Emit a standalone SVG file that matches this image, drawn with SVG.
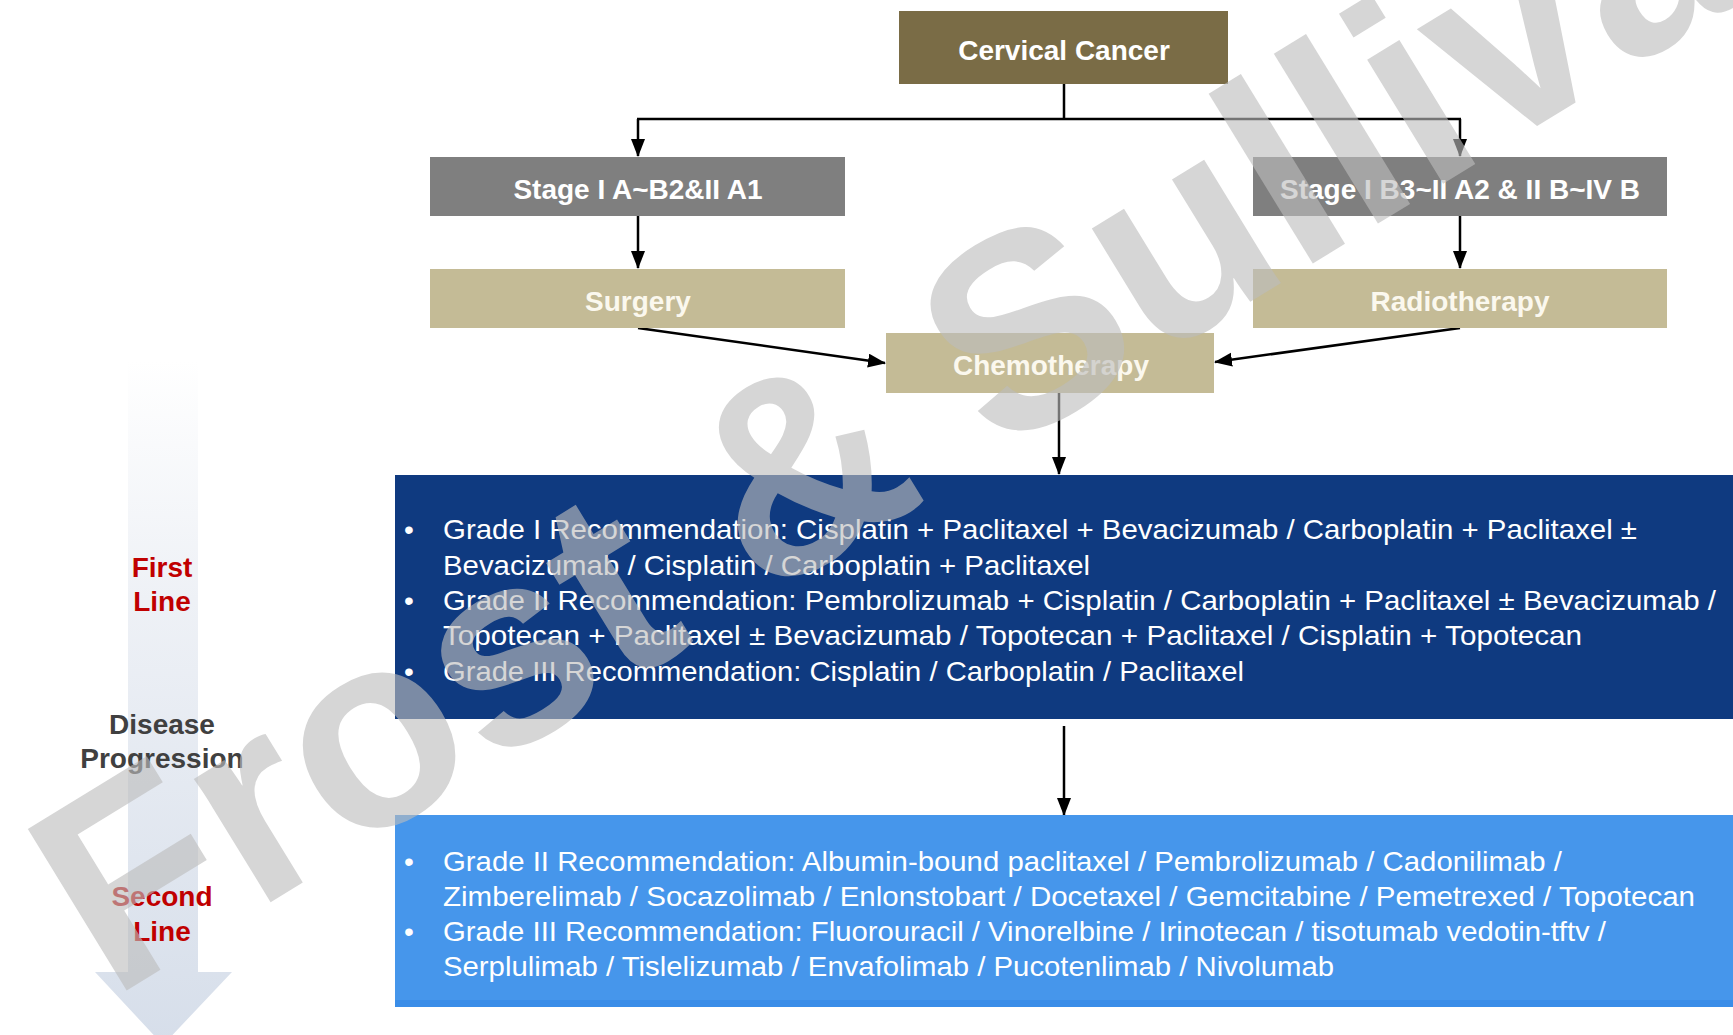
<svg xmlns="http://www.w3.org/2000/svg" width="1733" height="1035" viewBox="0 0 1733 1035">
<defs>
<style>
.node-title{font-family:"Liberation Sans",Arial,sans-serif;font-weight:bold;font-size:28px;fill:#ffffff;text-anchor:middle}
.khaki-t{fill:#fbf8ee}
.body{font-family:"Liberation Sans",Arial,sans-serif;font-size:28px;fill:#ffffff}
.side{font-family:"Liberation Sans",Arial,sans-serif;font-weight:bold;font-size:28px;text-anchor:middle}
.red{fill:#c00000}
.grey{fill:#404040}
.conn{stroke:#000;stroke-width:2.5;fill:none}
.arr{marker-end:url(#ah)}
</style>
<marker id="ah" markerUnits="userSpaceOnUse" markerWidth="18" markerHeight="16" refX="17" refY="7" orient="auto">
<path d="M0,0 L18,7 L0,14 Z" fill="#000"/>
</marker>
<linearGradient id="prog" x1="0" y1="0" x2="0" y2="1">
<stop offset="0" stop-color="#ffffff"/>
<stop offset="0.35" stop-color="#eef1f6"/>
<stop offset="1" stop-color="#d6deea"/>
</linearGradient>
</defs>
<rect width="1733" height="1035" fill="#ffffff"/>

<g id="progression-arrow">
<path d="M128 360 H198 V972 H232 L163 1045 L95 972 H128 Z" fill="url(#prog)"/>
<text class="side red" x="162" y="577">First</text>
<text class="side red" x="162" y="611">Line</text>
<text class="side grey" x="162" y="734">Disease</text>
<text class="side grey" x="162" y="768">Progression</text>
<text class="side red" x="162" y="906">Second</text>
<text class="side red" x="162" y="941">Line</text>
</g>

<g id="connectors">
<path class="conn" d="M1064 84 V119 M637 119 H1461"/>
<path class="conn arr" d="M638 119 V156"/>
<path class="conn arr" d="M1460 119 V156"/>
<path class="conn arr" d="M638 216 V268"/>
<path class="conn arr" d="M1460 216 V268"/>
<path class="conn arr" d="M638 328 L885 363"/>
<path class="conn arr" d="M1460 328 L1215 362"/>
<path class="conn arr" d="M1059 393 V474"/>
<path class="conn arr" d="M1064 726 V815"/>
</g>

<g id="cervical-cancer">
<rect x="899" y="11" width="329" height="73" fill="#7a6c46"/>
<text class="node-title" x="1064" y="60">Cervical Cancer</text>
</g>
<g id="stage-early">
<rect x="430" y="157" width="415" height="59" fill="#7f7f7f"/>
<text class="node-title" x="638" y="199">Stage I A~B2&amp;II A1</text>
</g>
<g id="stage-late">
<rect x="1253" y="157" width="414" height="59" fill="#7f7f7f"/>
<text class="node-title" x="1460" y="199">Stage I B3~II A2 &amp; II B~IV B</text>
</g>
<g id="surgery">
<rect x="430" y="269" width="415" height="59" fill="#c4bb96"/>
<text class="node-title khaki-t" x="638" y="311">Surgery</text>
</g>
<g id="radiotherapy">
<rect x="1253" y="269" width="414" height="59" fill="#c4bb96"/>
<text class="node-title khaki-t" x="1460" y="311">Radiotherapy</text>
</g>
<g id="chemotherapy">
<rect x="886" y="333" width="328" height="60" fill="#c4bb96"/>
<text class="node-title khaki-t" x="1051" y="375">Chemotherapy</text>
</g>

<g id="first-line">
<rect x="395" y="475" width="1338" height="244" fill="#0f3a80"/>
<text class="body" x="404" y="539">•</text>
<text class="body" x="443" y="539" textLength="1194" lengthAdjust="spacingAndGlyphs">Grade I Recommendation: Cisplatin + Paclitaxel + Bevacizumab / Carboplatin + Paclitaxel ±</text>
<text class="body" x="443" y="575" textLength="647" lengthAdjust="spacingAndGlyphs">Bevacizumab / Cisplatin / Carboplatin + Paclitaxel</text>
<text class="body" x="404" y="610">•</text>
<text class="body" x="443" y="610" textLength="1273" lengthAdjust="spacingAndGlyphs">Grade II Recommendation: Pembrolizumab + Cisplatin / Carboplatin + Paclitaxel ± Bevacizumab /</text>
<text class="body" x="443" y="645" textLength="1139" lengthAdjust="spacingAndGlyphs">Topotecan + Paclitaxel ± Bevacizumab / Topotecan + Paclitaxel / Cisplatin + Topotecan</text>
<text class="body" x="404" y="681">•</text>
<text class="body" x="443" y="681" textLength="801" lengthAdjust="spacingAndGlyphs">Grade III Recommendation: Cisplatin / Carboplatin / Paclitaxel</text>
</g>

<g id="second-line">
<rect x="395" y="815" width="1338" height="192" fill="#4696eb"/>
<rect x="395" y="1000" width="1338" height="7" fill="#3a8de8"/>
<text class="body" x="404" y="871">•</text>
<text class="body" x="443" y="871" textLength="1119" lengthAdjust="spacingAndGlyphs">Grade II Recommendation: Albumin-bound paclitaxel / Pembrolizumab / Cadonilimab /</text>
<text class="body" x="443" y="906" textLength="1252" lengthAdjust="spacingAndGlyphs">Zimberelimab / Socazolimab / Enlonstobart /  Docetaxel / Gemcitabine / Pemetrexed / Topotecan</text>
<text class="body" x="404" y="941">•</text>
<text class="body" x="443" y="941" textLength="1163" lengthAdjust="spacingAndGlyphs">Grade III Recommendation: Fluorouracil / Vinorelbine / Irinotecan / tisotumab vedotin-tftv /</text>
<text class="body" x="443" y="976" textLength="891" lengthAdjust="spacingAndGlyphs">Serplulimab / Tislelizumab / Envafolimab / Pucotenlimab / Nivolumab</text>
</g>

<g id="watermark" opacity="0.62">
<text x="0" y="0" transform="translate(111 1000) rotate(-31.5)" font-family="Liberation Sans, Arial, sans-serif" font-weight="bold" font-size="275" fill="#bdbdbd">Frost &amp; Sullivan</text>
</g>
</svg>
